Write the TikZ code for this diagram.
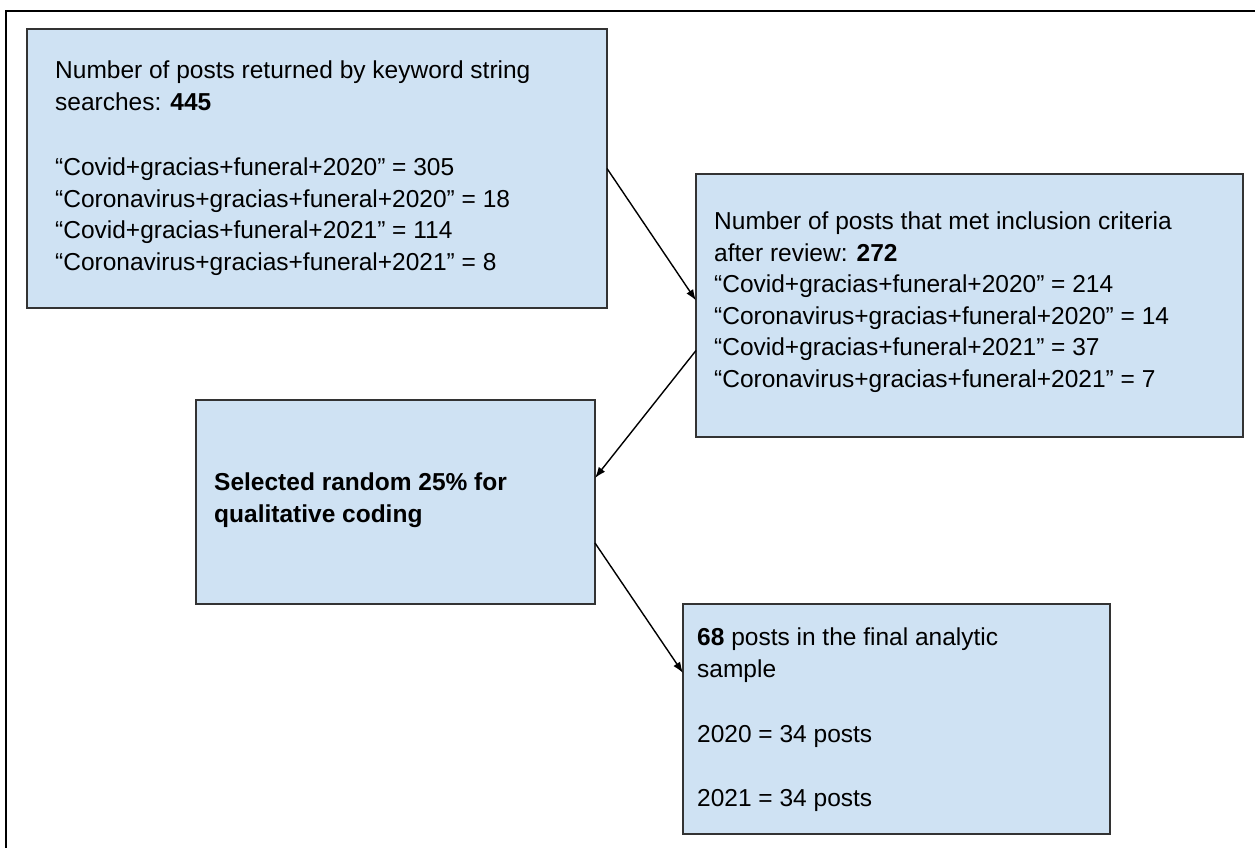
\documentclass[tikz,border=0pt]{standalone}
\usepackage{fontspec}
\setmainfont{Liberation Sans}
\usetikzlibrary{arrows.meta}
\definecolor{boxfill}{HTML}{CFE2F3}
\definecolor{boxline}{HTML}{333333}
\begin{document}
\begin{tikzpicture}[x=1pt,y=-1pt,
  box/.style={draw=boxline, line width=1.2pt, fill=boxfill, inner sep=0pt, outer sep=0pt, anchor=north west},
  txt/.style={anchor=base west, inner sep=0pt, align=left, font=\fontsize{24.5}{31.5}\selectfont},
  arr/.style={-{Latex[length=11pt,width=8pt]}, line width=1.4pt},
  frame/.style={line width=2.5pt}]
\useasboundingbox (0,0) rectangle (1255,848);
\draw[frame] (6,848) -- (6,11) -- (1255,11);
\node[box, minimum width=580pt, minimum height=279pt] (b1) at (27,29) {};
\node[box, minimum width=547pt, minimum height=263pt] (b2) at (696,174) {};
\node[box, minimum width=399pt, minimum height=204pt] (b3) at (196,400) {};
\node[box, minimum width=427pt, minimum height=230pt] (b4) at (683,604) {};
\node[txt] (t1) at (55,270) {Number of posts returned by keyword string\\
searches: \textbf{445}\\[34pt]
“Covid+gracias+funeral+2020” = 305\\
“Coronavirus+gracias+funeral+2020” = 18\\
“Covid+gracias+funeral+2021” = 114\\
“Coronavirus+gracias+funeral+2021” = 8};
\node[txt] (t2) at (714,387) {Number of posts that met inclusion criteria\\
after review: \textbf{272}\\
“Covid+gracias+funeral+2020” = 214\\
“Coronavirus+gracias+funeral+2020” = 14\\
“Covid+gracias+funeral+2021” = 37\\
“Coronavirus+gracias+funeral+2021” = 7};
\node[txt] (t3) at (214,522) {\textbf{Selected random 25\% for}\\
\textbf{qualitative coding}};
\node[txt] (t4) at (697,806) {\textbf{68} posts in the final analytic\\
sample\\[34pt]
2020 = 34 posts\\[32pt]
2021 = 34 posts};
\draw[arr] (b1.east) -- ([yshift=5pt]b2.west);
\draw[arr] ([yshift=-45pt]b2.west) -- ([yshift=24pt]b3.east);
\draw[arr] ([yshift=-41pt]b3.east) -- ([yshift=46pt]b4.west);
\end{tikzpicture}
\end{document}
